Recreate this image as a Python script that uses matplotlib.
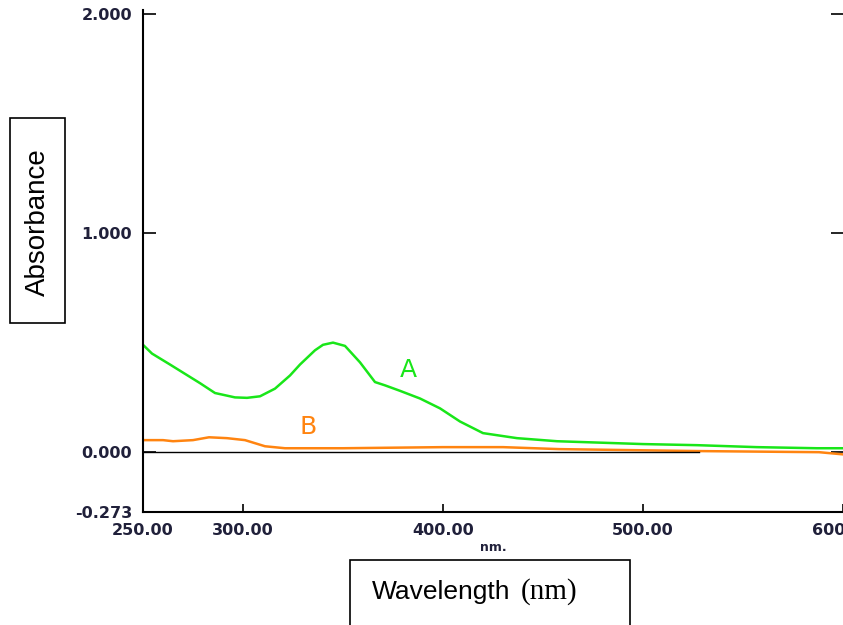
# -- UV-Vis absorption spectra (A and B)

import numpy as np
import matplotlib.pyplot as plt
from matplotlib.patches import Rectangle

# Data
wl_a  = [250, 254.5, 263.5, 278.5, 286, 296, 302, 308.5, 316, 323.5, 328.5, 336, 340, 345, 351,
         358.5, 366, 371, 378.5, 388.5, 398.5, 408.5, 420, 437, 457, 500, 527, 557, 587, 600]
abs_a = [0.49, 0.45, 0.40, 0.315, 0.27, 0.25, 0.248, 0.255, 0.29, 0.35, 0.40, 0.465, 0.49, 0.50, 0.485,
         0.41, 0.32, 0.305, 0.28, 0.245, 0.20, 0.14, 0.087, 0.064, 0.05, 0.037, 0.032, 0.023, 0.018, 0.018]

wl_b  = [250, 260, 265, 275, 283, 292, 301, 306, 311, 321, 350, 400, 430, 458, 528, 588, 600]
abs_b = [0.055, 0.055, 0.05, 0.055, 0.068, 0.064, 0.055, 0.041, 0.027, 0.018, 0.018, 0.023, 0.023,
         0.014, 0.005, 0.0, -0.01]

y_ticks  = [2.0, 1.0, 0.0, -0.273]
y_labels = ["2.000", "1.000", "0.000", "-0.273"]
x_ticks  = [250, 300, 400, 500, 600]
x_labels = ["250.00", "300.00", "400.00", "500.00", "600.00"]

green  = "#19e619"
orange = "#ff8410"
tick_c = "#20203a"

fig = plt.figure(figsize=(8.43, 6.25), dpi=100)
ax = fig.add_axes([143 / 843, 113 / 625, 700 / 843, 502 / 625])

ax.plot(wl_a, abs_a, color=green, lw=1.8)
ax.plot(wl_b, abs_b, color=orange, lw=1.8)
ax.plot([250, 528], [0, 0], color="black", lw=1.0)

ax.text(382.5, 0.375, "A", color=green, fontsize=18, ha="center", va="center")
ax.text(332.5, 0.114, "B", color=orange, fontsize=18, ha="center", va="center")

ax.set_xlim(250, 600)
ax.set_ylim(-0.273, 2.018)

ax.set_yticks(y_ticks)
ax.set_yticklabels(y_labels)
ax.set_xticks(x_ticks)
ax.set_xticklabels(x_labels)
for lab in ax.get_xticklabels() + ax.get_yticklabels():
    lab.set_fontfamily("DejaVu Sans")
    lab.set_fontweight("bold")
    lab.set_fontsize(11.5)
    lab.set_color(tick_c)

ax.tick_params(axis="y", direction="in", length=9, width=1.2, pad=8, right=True)
ax.tick_params(axis="x", direction="in", length=6, width=1.2, pad=8)

ax.spines["top"].set_visible(False)
ax.spines["right"].set_visible(False)
ax.spines["left"].set_linewidth(1.5)
ax.spines["bottom"].set_linewidth(1.5)

ax.text(425, -0.434, "nm.", fontsize=9, fontweight="bold", color=tick_c,
        ha="center", va="center", clip_on=False)

# Axis label boxes
fig.patches.append(Rectangle((10 / 843, 1 - 323 / 625), 55 / 843, 205 / 625,
                             transform=fig.transFigure, fill=False, lw=1.2, ec="black"))
fig.text(37.5 / 843, 1 - 222 / 625, "Absorbance", rotation=90, fontsize=20,
         family="Liberation Sans", ha="center", va="center")

fig.patches.append(Rectangle((350 / 843, -0.05), 280 / 843, 0.05 + 65 / 625,
                             transform=fig.transFigure, fill=False, lw=1.2, ec="black"))
fig.text(372 / 843, 1 - 592 / 625, "Wavelength", fontsize=19,
         family="Liberation Sans", ha="left", va="center")
fig.text(521 / 843, 1 - 592 / 625, "(nm)", fontsize=21,
         family="Liberation Serif", ha="left", va="center")

plt.savefig("out.png", dpi=100)
